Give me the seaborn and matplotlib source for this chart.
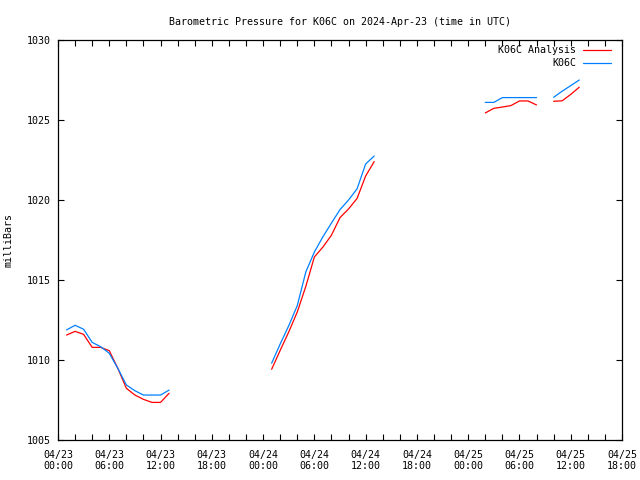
import numpy as np
import pandas as pd
import matplotlib
matplotlib.use("Agg")
import matplotlib.pyplot as plt
import seaborn as sns

# ---- data (hours since 2024-04-23 00:00 UTC) ----
hours_seg1 = [1, 2, 3, 4, 5, 6, 7, 8, 9, 10, 11, 12, 13]
obs_seg1 = [1011.88, 1012.17, 1011.92, 1011.1, 1010.83, 1010.42, 1009.48,
            1008.44, 1008.08, 1007.81, 1007.81, 1007.81, 1008.12]
ana_seg1 = [1011.56, 1011.79, 1011.6, 1010.79, 1010.79, 1010.58, 1009.48,
            1008.23, 1007.81, 1007.54, 1007.35, 1007.35, 1007.92]

hours_seg2 = [25, 26, 27, 28, 29, 30, 31, 32, 33, 34, 35, 36, 37]
obs_seg2 = [1009.8, 1011.0, 1012.14, 1013.4, 1015.5, 1016.75, 1017.7,
            1018.56, 1019.4, 1020.0, 1020.7, 1022.25, 1022.75]
ana_seg2 = [1009.42, 1010.6, 1011.75, 1013.0, 1014.6, 1016.44, 1017.06,
            1017.8, 1018.9, 1019.44, 1020.1, 1021.5, 1022.4]

hours_seg3 = [50, 51, 52, 53, 54, 55, 56]
obs_seg3 = [1026.1, 1026.1, 1026.4, 1026.4, 1026.4, 1026.4, 1026.4]
ana_seg3 = [1025.44, 1025.73, 1025.81, 1025.9, 1026.19, 1026.19, 1025.94]

hours_seg4 = [58, 59, 60, 61]
obs_seg4 = [1026.42, 1026.8, 1027.15, 1027.5]
ana_seg4 = [1026.17, 1026.2, 1026.6, 1027.05]

xtick_hours = [0, 6, 12, 18, 24, 30, 36, 42, 48, 54, 60, 66]
xtick_labels = ["04/23\n00:00", "04/23\n06:00", "04/23\n12:00", "04/23\n18:00",
                "04/24\n00:00", "04/24\n06:00", "04/24\n12:00", "04/24\n18:00",
                "04/25\n00:00", "04/25\n06:00", "04/25\n12:00", "04/25\n18:00"]
ytick_values = [1005, 1010, 1015, 1020, 1025, 1030]

series_names = ["K06C Analysis", "K06C"]
series_colors = ["#ff0000", "#0080ff"]

# ---- build long table ----
segments = [(hours_seg1, obs_seg1, ana_seg1), (hours_seg2, obs_seg2, ana_seg2),
            (hours_seg3, obs_seg3, ana_seg3), (hours_seg4, obs_seg4, ana_seg4)]
rows = []
for si, (h, o, a) in enumerate(segments):
    for hh, ov, av in zip(h, o, a):
        rows.append({"hour": hh, "p": av, "series": series_names[0], "seg": si})
        rows.append({"hour": hh, "p": ov, "series": series_names[1], "seg": si})
df = pd.DataFrame(rows)

sns.set_style("white")
plt.rcParams["font.family"] = ["DejaVu Sans Mono", "DejaVu Sans"]
plt.rcParams["text.color"] = "black"
plt.rcParams["axes.labelcolor"] = "black"
plt.rcParams["xtick.color"] = "black"
plt.rcParams["ytick.color"] = "black"
fs = 7.2

fig = plt.figure(figsize=(6.4, 4.8), dpi=100)
ax = fig.add_axes([58 / 640, 1 - 440 / 480, 564 / 640, 400 / 480])

for name, col in zip(series_names, series_colors):
    sub = df[df["series"] == name]
    sns.lineplot(data=sub, x="hour", y="p", units="seg", estimator=None,
                 color=col, lw=0.9, ax=ax, legend=False)

ax.set_xlim(0, 66)
ax.set_ylim(1005, 1030)
ax.set_xticks(xtick_hours)
ax.set_xticklabels(xtick_labels, fontsize=fs)
ax.set_xticks(np.arange(0, 67, 2), minor=True)
ax.set_yticks(ytick_values)
ax.set_yticklabels([str(v) for v in ytick_values], fontsize=fs)
ax.tick_params(axis="both", which="both", direction="in", length=4, width=0.8,
               top=True, right=True, bottom=True, left=True, color="black",
               labelcolor="black")
ax.tick_params(axis="x", which="major", pad=7)
ax.tick_params(axis="y", which="major", pad=5)
ax.set_xlabel("")
ax.set_ylabel("milliBars", fontsize=fs, labelpad=10, color="black")
for s in ax.spines.values():
    s.set_color("black")
    s.set_linewidth(0.9)

ax.set_title("Barometric Pressure for K06C on 2024-Apr-23 (time in UTC)",
             fontsize=fs, pad=11, color="black")

# key, gnuplot style: text right-aligned, sample line to the right
for i, (name, col) in enumerate(zip(series_names, series_colors)):
    yk = 1 - (10 + 13 * i) / 400
    ax.text((576 - 58) / 564, yk, name, transform=ax.transAxes, ha="right",
            va="center", fontsize=fs, color="black")
    ax.plot([(583 - 58) / 564, (611 - 58) / 564], [yk, yk], color=col, lw=0.9,
            transform=ax.transAxes)

fig.savefig("out.png", dpi=100, facecolor="white")
